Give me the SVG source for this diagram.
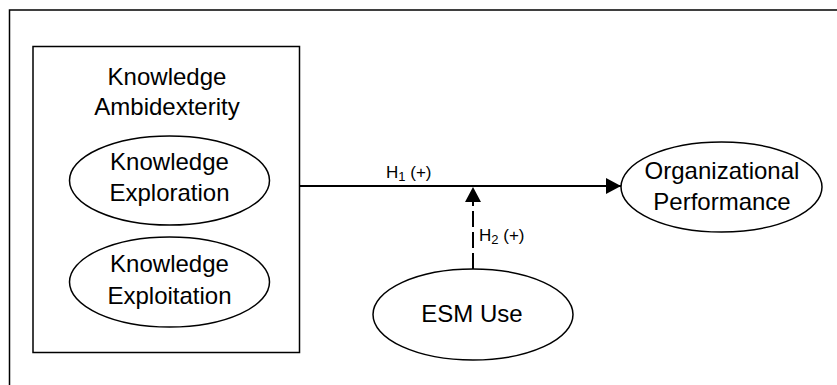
<svg xmlns="http://www.w3.org/2000/svg" width="837" height="385" viewBox="0 0 837 385">
<style>
text { font-family: "Liberation Sans", Arial, sans-serif; fill: #000; }
.big { font-size: 24px; text-anchor: middle; }
.lab { font-size: 17px; }
.sub { font-size: 13px; }
.shape { fill: #fff; stroke: #000; stroke-width: 1.5; }
.conn { fill: none; stroke: #000; stroke-width: 2; }
</style>
<defs>
<marker id="arr" viewBox="0 0 15 16" refX="15" refY="8" markerWidth="15" markerHeight="16" markerUnits="userSpaceOnUse" orient="auto">
<path d="M0,0 L15,8 L0,16 Z" fill="#000"/>
</marker>
</defs>
<rect width="837" height="385" fill="#fff"/>
<path d="M837,10 H9.5 V385" fill="none" stroke="#000" stroke-width="1.5"/>
<g id="knowledge-ambidexterity">
<rect class="shape" x="33" y="46.5" width="266.5" height="306"/>
<text class="big" x="167" y="85">Knowledge</text>
<text class="big" x="167" y="115">Ambidexterity</text>
</g>
<g id="knowledge-exploration">
<ellipse class="shape" cx="169.5" cy="180.5" rx="100" ry="44.5"/>
<text class="big" x="169.5" y="170">Knowledge</text>
<text class="big" x="169.5" y="201">Exploration</text>
</g>
<g id="knowledge-exploitation">
<ellipse class="shape" cx="169.5" cy="282" rx="100" ry="45"/>
<text class="big" x="169.5" y="272">Knowledge</text>
<text class="big" x="169.5" y="304">Exploitation</text>
</g>
<g id="organizational-performance">
<ellipse class="shape" cx="721.5" cy="187" rx="100.5" ry="45"/>
<text class="big" x="722" y="179">Organizational</text>
<text class="big" x="722" y="210">Performance</text>
</g>
<g id="esm-use">
<ellipse class="shape" cx="473" cy="314.5" rx="100" ry="45.5"/>
<text class="big" x="472" y="322">ESM Use</text>
</g>
<g id="connectors">
<line class="conn" x1="300" y1="186" x2="621" y2="186" marker-end="url(#arr)"/>
<line class="conn" x1="473" y1="269" x2="473" y2="187" stroke-dasharray="16 5" marker-end="url(#arr)"/>
<text class="lab" x="386" y="178">H<tspan class="sub" dy="3">1</tspan><tspan dy="-3"> (+)</tspan></text>
<text class="lab" x="479" y="241">H<tspan class="sub" dy="3">2</tspan><tspan dy="-3"> (+)</tspan></text>
</g>
</svg>
